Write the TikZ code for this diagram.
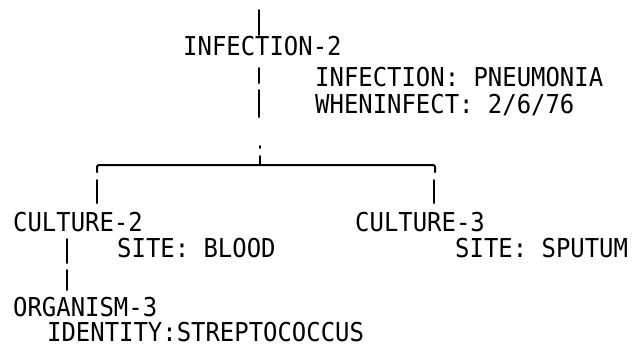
\documentclass[tikz,border=0pt]{standalone}
\usepackage{fontspec}
\newfontfamily\plotfont[FakeStretch=0.92]{DejaVu Sans Mono}
\begin{document}
\begin{tikzpicture}[x=1pt,y=-1pt,
  lbl/.style={font=\plotfont\fontsize{26}{26}\selectfont, inner sep=0pt, anchor=base west, text depth=0pt},
  wire/.style={line width=2pt, line cap=round, rounded corners=2pt}]
\useasboundingbox (0,0) rectangle (633,346);
% text nodes
\node[lbl] (inf2) at (183,55) {INFECTION-2};
\node[lbl] (infa) at (315,86) {INFECTION: PNEUMONIA};
\node[lbl] (infb) at (315,113) {WHENINFECT: 2/6/76};
\node[lbl] (cul2) at (13,231) {CULTURE-2};
\node[lbl] (site2) at (117,257) {SITE: BLOOD};
\node[lbl] (cul3) at (355,231) {CULTURE-3};
\node[lbl] (site3) at (455,257) {SITE: SPUTUM};
\node[lbl] (org3) at (13,316) {ORGANISM-3};
\node[lbl] (ident) at (47,341) {IDENTITY:STREPTOCOCCUS};
% coordinates for connectors
\coordinate (top0) at (259,10);
\coordinate (top1) at (259,35);
\coordinate (v1a) at (259,68);
\coordinate (v1b) at (259,83);
\coordinate (v2a) at (259,90);
\coordinate (v2b) at (259,117);
\coordinate (dota) at (260,146);
\coordinate (dotb) at (260,148);
\coordinate (ticka) at (260,156);
\coordinate (tickb) at (260,165);
\coordinate (ll) at (97,172);
\coordinate (lc) at (97,165);
\coordinate (rc) at (435,165);
\coordinate (rr) at (435,172);
\coordinate (la) at (97,180);
\coordinate (lb) at (97,203);
\coordinate (ra) at (434,180);
\coordinate (rb) at (434,203);
\coordinate (oa) at (67,239);
\coordinate (ob) at (67,263);
\coordinate (oc) at (67,270);
\coordinate (od) at (67,290);
% connectors
\draw[wire] (top0) -- (top1);
\draw[wire] (v1a) -- (v1b);
\draw[wire] (v2a) -- (v2b);
\draw[wire] (dota) -- (dotb);
\draw[wire] (ticka) -- (tickb);
\draw[wire] (ll) -- (lc) -- (rc) -- (rr);
\draw[wire] (la) -- (lb);
\draw[wire] (ra) -- (rb);
\draw[wire] (oa) -- (ob);
\draw[wire] (oc) -- (od);
\end{tikzpicture}
\end{document}
